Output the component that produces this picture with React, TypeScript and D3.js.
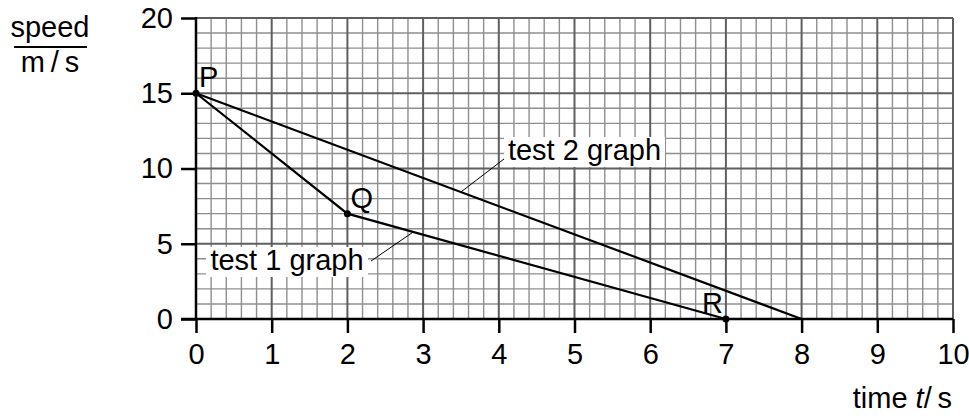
import React, { useEffect, useRef } from "react";
import * as d3 from "d3";

const xTicks = [0, 1, 2, 3, 4, 5, 6, 7, 8, 9, 10];
const yTicks = [0, 5, 10, 15, 20];
const test1Times = [0, 2, 7];
const test1Speeds = [15, 7, 0];
const test2Times = [0, 8];
const test2Speeds = [15, 0];
const pointNames = ["P", "Q", "R"];

export default function App() {
  const ref = useRef<SVGSVGElement>(null);

  useEffect(() => {
    const svg = d3.select(ref.current);
    svg.selectAll("*").remove();

    const font = "'Liberation Sans', Arial, sans-serif";
    const fs = 29;
    const x = d3.scaleLinear().domain([0, 10]).range([196, 953]);
    const y = d3.scaleLinear().domain([0, 20]).range([319, 18]);

    const grid = svg.append("g");
    // minor verticals every 0.2 s
    const minorX = d3.range(0, 50).map((i) => i / 5).filter((v) => v > 0 && v % 1 !== 0);
    grid.selectAll(".mx").data(minorX).join("line")
      .attr("x1", (d) => x(d)).attr("x2", (d) => x(d))
      .attr("y1", y(0)).attr("y2", y(20))
      .attr("stroke", "#8f8f8f").attr("stroke-width", 1.4);
    const minorY = d3.range(1, 20).filter((v) => v % 5 !== 0);
    grid.selectAll(".my").data(minorY).join("line")
      .attr("x1", x(0)).attr("x2", x(10))
      .attr("y1", (d) => y(d)).attr("y2", (d) => y(d))
      .attr("stroke", "#8f8f8f").attr("stroke-width", 1.4);
    grid.selectAll(".Mx").data(xTicks.slice(1)).join("line")
      .attr("x1", (d) => x(d)).attr("x2", (d) => x(d))
      .attr("y1", y(0)).attr("y2", y(20))
      .attr("stroke", "#5f5f5f").attr("stroke-width", 2);
    grid.selectAll(".My").data(yTicks.slice(1)).join("line")
      .attr("x1", x(0)).attr("x2", x(10))
      .attr("y1", (d) => y(d)).attr("y2", (d) => y(d))
      .attr("stroke", "#5f5f5f").attr("stroke-width", 2);

    // axes
    const xAxis = d3.axisBottom(x).tickValues(xTicks).tickSize(14).tickPadding(10).tickSizeOuter(0);
    const gx = svg.append("g").attr("transform", `translate(0,${y(0)})`).call(xAxis);
    gx.select(".domain").remove();
    gx.selectAll("line").attr("stroke", "#000").attr("stroke-width", 2.5);
    gx.selectAll("text").attr("font-family", font).attr("font-size", fs).attr("fill", "#000");
    svg.append("line").attr("x1", 181).attr("x2", x(10)).attr("y1", y(0)).attr("y2", y(0))
      .attr("stroke", "#000").attr("stroke-width", 2.5);

    const yAxis = d3.axisLeft(y).tickValues(yTicks).tickSize(15).tickPadding(8).tickSizeOuter(0);
    const gy = svg.append("g").attr("transform", `translate(${x(0)},0)`).call(yAxis);
    gy.select(".domain").remove();
    gy.selectAll("line").attr("stroke", "#000").attr("stroke-width", 2.5);
    gy.selectAll("text").attr("font-family", font).attr("font-size", fs).attr("fill", "#000");
    svg.append("line").attr("x1", x(0)).attr("x2", x(0)).attr("y1", y(0)).attr("y2", y(20) - 1)
      .attr("stroke", "#000").attr("stroke-width", 2.5);

    // axis titles
    svg.append("text").attr("x", 50).attr("y", 37).attr("text-anchor", "middle")
      .attr("font-family", font).attr("font-size", fs).text("speed");
    svg.append("line").attr("x1", 14).attr("x2", 87).attr("y1", 47).attr("y2", 47)
      .attr("stroke", "#000").attr("stroke-width", 2);
    svg.append("text").attr("x", 50).attr("y", 72).attr("text-anchor", "middle")
      .attr("font-family", font).attr("font-size", fs).text("m\u2009/\u2009s");
    const tt = svg.append("text").attr("x", 952).attr("y", 408).attr("text-anchor", "end")
      .attr("font-family", font).attr("font-size", fs);
    tt.append("tspan").text("time ");
    tt.append("tspan").attr("font-style", "italic").text("t");
    tt.append("tspan").text("/\u2009s");

    // data lines
    const t1 = test1Times.map((t, i) => [x(t), y(test1Speeds[i])] as [number, number]);
    const t2 = test2Times.map((t, i) => [x(t), y(test2Speeds[i])] as [number, number]);
    const path = d3.line();
    svg.append("path").attr("d", path(t1)).attr("fill", "none").attr("stroke", "#000").attr("stroke-width", 2.2);
    svg.append("path").attr("d", path(t2)).attr("fill", "none").attr("stroke", "#000").attr("stroke-width", 2.2);

    svg.selectAll(".pt").data(t1).join("circle")
      .attr("cx", (d) => d[0]).attr("cy", (d) => d[1]).attr("r", 3.5).attr("fill", "#000");

    const labelOff = [[3, -6], [3, -6], [-24, -6]];
    svg.selectAll(".pl").data(t1).join("text")
      .attr("x", (d, i) => d[0] + labelOff[i][0]).attr("y", (d, i) => d[1] + labelOff[i][1])
      .attr("font-family", font).attr("font-size", fs).text((d, i) => pointNames[i]);

    // callout labels
    const callout = (label: string, bx: number, by: number, bw: number, bh: number,
      lx1: number, ly1: number, lineT: number, lineSeg: [number, number][]) => {
      svg.append("rect").attr("x", bx).attr("y", by).attr("width", bw).attr("height", bh).attr("fill", "#fff");
      svg.append("text").attr("x", bx + bw / 2).attr("y", by + bh - 7).attr("text-anchor", "middle")
        .attr("font-family", font).attr("font-size", fs).text(label);
      // point on the graph line at time lineT
      const [[ax, ay], [bx2, by2]] = lineSeg;
      const px = x(lineT);
      const py = ay + ((px - ax) / (bx2 - ax)) * (by2 - ay);
      svg.append("line").attr("x1", lx1).attr("y1", ly1).attr("x2", px).attr("y2", py)
        .attr("stroke", "#000").attr("stroke-width", 1);
    };
    callout("test 2 graph", 504, 137, 161, 30, 504, 159, 3.5, t2);
    callout("test 1 graph", 206, 247, 162, 30, 371, 261, 2.87, [t1[1], t1[2]]);
  }, []);

  return (
    <svg ref={ref} width={969} height={419} style={{ position: "absolute", left: 0, top: 0, background: "#fff" }} />
  );
}
